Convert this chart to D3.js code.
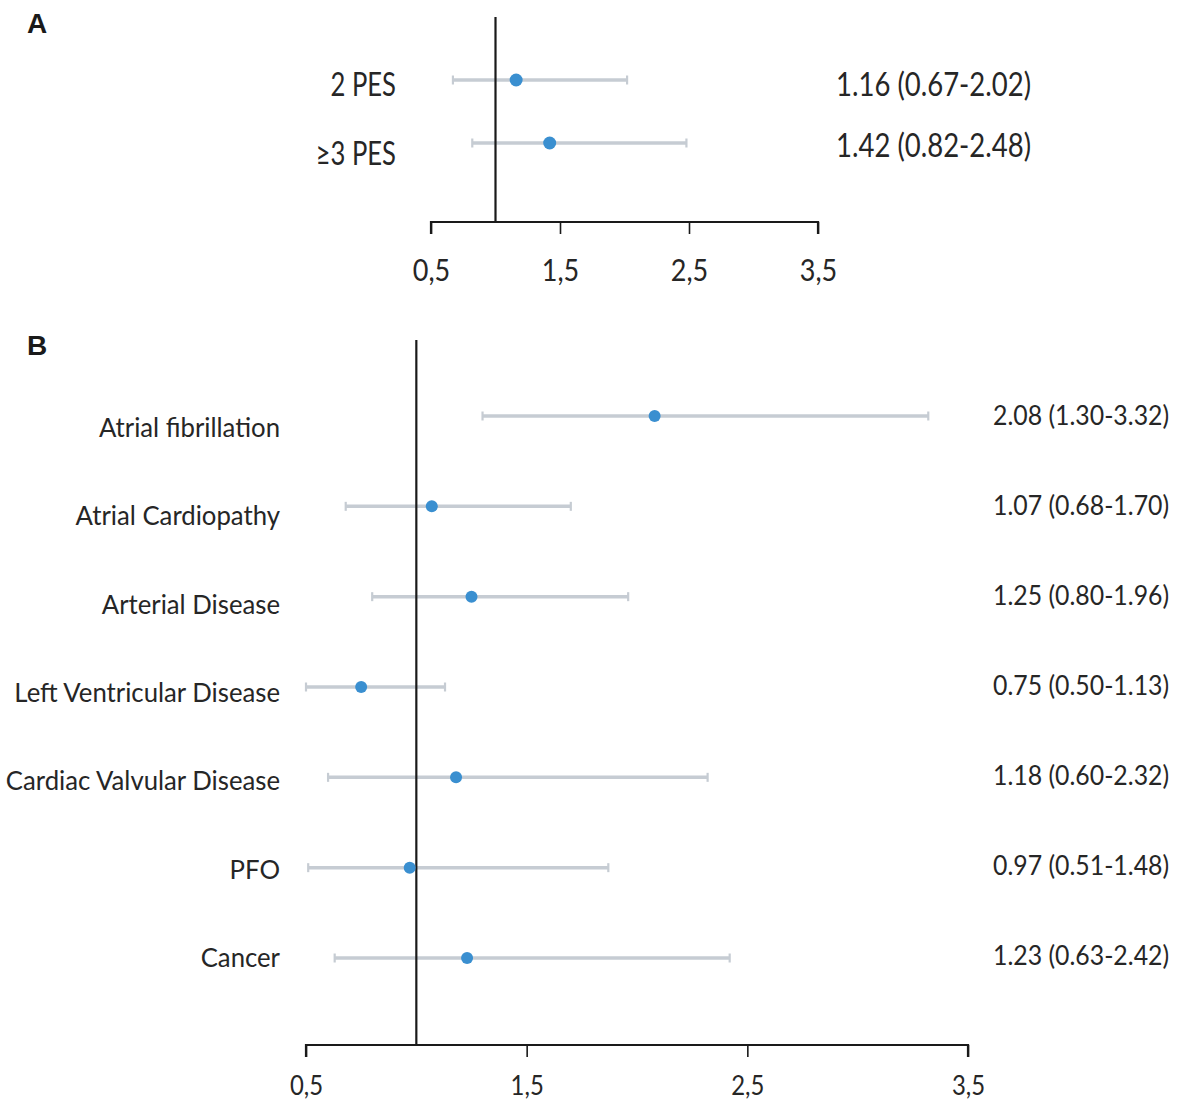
<!DOCTYPE html>
<html><head><meta charset="utf-8">
<script src="https://cdn.jsdelivr.net/npm/d3@7"></script>
<style>
body{margin:0;background:#fff}
svg{display:block}
text{font-family:Lato,"Open Sans",sans-serif;fill:#262626}
</style>
</head><body>
<svg id="chart" width="1180" height="1104"></svg>
<script>
// ---------- data ----------
const panelALabels   = ["2 PES", "≥3 PES"];
const panelAEstimate = [1.16, 1.42];
const panelALower    = [0.67, 0.82];
const panelAUpper    = [2.02, 2.48];
const panelAText     = ["1.16 (0.67-2.02)", "1.42 (0.82-2.48)"];

const panelBLabels   = ["Atrial fibrillation", "Atrial Cardiopathy", "Arterial Disease",
                        "Left Ventricular Disease", "Cardiac Valvular Disease", "PFO", "Cancer"];
const panelBEstimate = [2.08, 1.07, 1.25, 0.75, 1.18, 0.97, 1.23];
const panelBLower    = [1.30, 0.68, 0.80, 0.50, 0.60, 0.51, 0.63];
const panelBUpper    = [3.32, 1.70, 1.96, 1.13, 2.32, 1.87, 2.42];
const panelBText     = ["2.08 (1.30-3.32)", "1.07 (0.68-1.70)", "1.25 (0.80-1.96)",
                        "0.75 (0.50-1.13)", "1.18 (0.60-2.32)", "0.97 (0.51-1.48)", "1.23 (0.63-2.42)"];

const tickValues = [0.5, 1.5, 2.5, 3.5];
const tickLabels = ["0,5", "1,5", "2,5", "3,5"];
const referenceValue = 1;
const xDomain = [0.5, 3.5];

// ---------- styles ----------
const ciColor = "#c6ccd3";
const dotColor = "#3a8fd0";

const svg = d3.select("#chart");

function addText(g, x, y, str, size, anchor, sx) {
  return g.append("text")
    .attr("transform", `translate(${x},${y}) scale(${sx},1)`)
    .attr("text-anchor", anchor)
    .style("font-size", size + "px")
    .text(str);
}

function drawPanel(cfg) {
  const g = svg.append("g");
  const n = cfg.labels.length;
  const idx = d3.range(n);
  const x = d3.scaleLinear().domain(xDomain).range(cfg.xRange);
  const yDot = d3.scaleLinear().domain([0, n - 1]).range(cfg.dotY);
  const yLab = d3.scaleLinear().domain([0, n - 1]).range(cfg.labY);
  const yTxt = d3.scaleLinear().domain([0, n - 1]).range(cfg.txtY);

  // panel letter
  g.append("text").attr("x", 27).attr("y", cfg.letterY)
    .style("font-family", "'Liberation Sans', Arial, sans-serif")
    .style("font-size", "28px").style("font-weight", 700).style("fill", "#1a1a1a")
    .text(cfg.letter);

  // axis
  const axis = d3.axisBottom(x).tickValues(tickValues)
    .tickFormat((d, i) => tickLabels[i]).tickSize(12).tickPadding(cfg.tickPad);
  const ax = g.append("g").attr("transform", `translate(0,${cfg.axisY})`).call(axis);
  ax.select(".domain").attr("stroke", "#1a1a1a").attr("stroke-width", 2.2)
    .attr("d", `M${cfg.xRange[0]},12V0H${cfg.xRange[1]}V12`);
  ax.selectAll(".tick line").attr("stroke", "#1a1a1a").attr("stroke-width", 1.6);
  ax.selectAll(".tick text")
    .attr("transform", `scale(${cfg.tickSX},1)`)
    .style("font-family", "Lato,'Open Sans',sans-serif")
    .style("font-size", cfg.tickFont + "px").attr("fill", "#262626")
    .attr("dy", "0.71em");

  // CI lines
  g.selectAll(".ci").data(idx).join("line")
    .attr("x1", i => x(cfg.lower[i])).attr("x2", i => x(cfg.upper[i]))
    .attr("y1", i => yDot(i)).attr("y2", i => yDot(i))
    .attr("stroke", ciColor).attr("stroke-width", 3.5);
  // caps
  ["lower", "upper"].forEach(k => {
    g.selectAll(".cap-" + k).data(idx).join("line")
      .attr("x1", i => x(cfg[k][i])).attr("x2", i => x(cfg[k][i]))
      .attr("y1", i => yDot(i) - 4.5).attr("y2", i => yDot(i) + 4.5)
      .attr("stroke", ciColor).attr("stroke-width", 2.2);
  });

  // reference line
  g.append("line")
    .attr("x1", x(referenceValue)).attr("x2", x(referenceValue))
    .attr("y1", cfg.refTop).attr("y2", cfg.axisY)
    .attr("stroke", "#1a1a1a").attr("stroke-width", 2.2);

  // dots
  g.selectAll(".dot").data(idx).join("circle")
    .attr("cx", i => x(cfg.estimate[i])).attr("cy", i => yDot(i))
    .attr("r", cfg.r).attr("fill", dotColor);

  // labels
  idx.forEach(i => {
    addText(g, cfg.labX, yLab(i), cfg.labels[i], cfg.labFont, "end", cfg.labSX);
    addText(g, cfg.txtX, yTxt(i), cfg.text[i], cfg.txtFont, "start", cfg.txtSX);
  });
}

drawPanel({
  letter: "A", letterY: 33,
  labels: panelALabels, estimate: panelAEstimate, lower: panelALower, upper: panelAUpper, text: panelAText,
  xRange: [431, 818], axisY: 222, refTop: 17,
  dotY: [80, 143], labY: [96, 165], txtY: [96, 157],
  labX: 396, labFont: 32, labSX: 0.8, txtX: 836, txtFont: 32, txtSX: 0.86,
  tickFont: 30, tickPad: 26, tickSX: 0.9, r: 6.5
});

drawPanel({
  letter: "B", letterY: 355,
  labels: panelBLabels, estimate: panelBEstimate, lower: panelBLower, upper: panelBUpper, text: panelBText,
  xRange: [306, 968], axisY: 1045, refTop: 340,
  dotY: [416, 958], labY: [437, 967], txtY: [425, 965],
  labX: 280, labFont: 26, labSX: 0.99, txtX: 993, txtFont: 27, txtSX: 0.92,
  tickFont: 26, tickPad: 20, tickSX: 0.92, r: 6
});
</script>
</body></html>
